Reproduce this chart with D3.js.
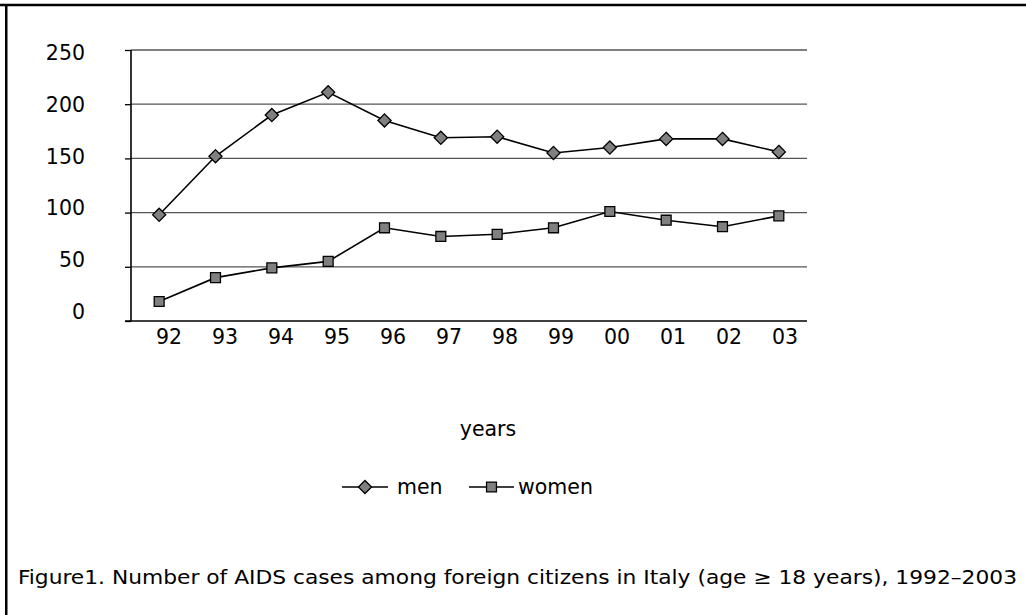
<!DOCTYPE html>
<html>
<head>
<meta charset="utf-8">
<script src="https://cdn.jsdelivr.net/npm/d3@7"></script>
<style>
  html, body { margin: 0; padding: 0; background: #fff; }
  svg { display: block; }
  text { font-family: "DejaVu Sans", Verdana, sans-serif; fill: #000; }
</style>
</head>
<body>
<script>
// AIDS cases among foreign citizens in Italy, by year and sex
const years = ["92", "93", "94", "95", "96", "97", "98", "99", "00", "01", "02", "03"];
const men   = [98, 152, 190, 211, 185, 169, 170, 155, 160, 168, 168, 156];
const women = [18, 40, 49, 55, 86, 78, 80, 86, 101, 93, 87, 97];
const yTicks = [0, 50, 100, 150, 200, 250];
const seriesNames = ["men", "women"];
const caption = "Figure1. Number of AIDS cases among foreign citizens in Italy (age \u2265 18 years), 1992\u20132003";

const W = 1026, H = 615;
const FS = "20.5px";
const svg = d3.select("body").append("svg").attr("width", W).attr("height", H);

// frame (top and left rules)
svg.append("line").attr("x1", 0).attr("x2", W).attr("y1", 5).attr("y2", 5)
  .attr("stroke", "#000").attr("stroke-width", 2.5);
svg.append("line").attr("x1", 6.25).attr("x2", 6.25).attr("y1", 4).attr("y2", H)
  .attr("stroke", "#000").attr("stroke-width", 2.5);

const plot = { left: 131, right: 807, top: 50, bottom: 321 };

const x = d3.scaleBand().domain(years).range([plot.left, plot.right]);
const y = d3.scaleLinear().domain([0, 250]).range([plot.bottom, plot.top]);
const yLabel = d3.scaleLinear().domain([0, 250]).range([312, 53]);
const xLabel = d3.scalePoint().domain(years).range([169, 785]);

// horizontal gridlines
svg.append("g").selectAll("line").data(yTicks.filter(d => d > 0)).join("line")
  .attr("x1", plot.left).attr("x2", plot.right)
  .attr("y1", d => y(d)).attr("y2", d => y(d))
  .attr("stroke", "#555").attr("stroke-width", 1.3);

// y axis with outward ticks
const yAxis = svg.append("g").attr("transform", `translate(${plot.left},0)`)
  .call(d3.axisLeft(y).tickValues(yTicks).tickSize(6).tickFormat(""));
yAxis.select(".domain").attr("stroke", "#000").attr("stroke-width", 1.6)
  .attr("d", `M0,${plot.top}V${plot.bottom}`);
yAxis.selectAll(".tick line").attr("stroke", "#000").attr("stroke-width", 1.3);

// y tick labels
svg.append("g").selectAll("text").data(yTicks).join("text")
  .attr("x", 85).attr("y", d => yLabel(d))
  .attr("text-anchor", "end").attr("dominant-baseline", "central")
  .style("font-size", FS).text(d => d);

// x axis line
svg.append("line").attr("x1", plot.left - 6).attr("x2", plot.right)
  .attr("y1", y(0)).attr("y2", y(0))
  .attr("stroke", "#000").attr("stroke-width", 1.6);

// x tick labels
svg.append("g").selectAll("text").data(years).join("text")
  .attr("x", d => xLabel(d)).attr("y", 344)
  .attr("text-anchor", "middle").style("font-size", FS).text(d => d);

// axis title
svg.append("text").attr("x", 488).attr("y", 436).attr("text-anchor", "middle")
  .style("font-size", FS).text("years");

const line = d3.line().x((d, i) => x(years[i]) + x.bandwidth() / 2).y(d => y(d));
const diamond = d3.symbol().type(d3.symbolDiamond2).size(110);
const square = d3.symbol().type(d3.symbolSquare2).size(125);

function drawSeries(values, sym) {
  const g = svg.append("g");
  g.append("path").datum(values).attr("d", line)
    .attr("fill", "none").attr("stroke", "#000").attr("stroke-width", 1.6);
  g.selectAll("path.m").data(values).join("path").attr("class", "m")
    .attr("transform", (d, i) => `translate(${x(years[i]) + x.bandwidth() / 2},${y(d)})`)
    .attr("d", sym).attr("fill", "#808080").attr("stroke", "#000").attr("stroke-width", 1.3);
}
drawSeries(men, diamond);
drawSeries(women, square);

// legend
const legend = [
  { name: seriesNames[0], sym: diamond, x0: 342, x1: 388, tx: 397 },
  { name: seriesNames[1], sym: square, x0: 469, x1: 514, tx: 518 }
];
const ly = 487;
legend.forEach(l => {
  svg.append("line").attr("x1", l.x0).attr("x2", l.x1).attr("y1", ly).attr("y2", ly)
    .attr("stroke", "#000").attr("stroke-width", 1.5);
  svg.append("path").attr("transform", `translate(${(l.x0 + l.x1) / 2},${ly})`)
    .attr("d", l.sym).attr("fill", "#808080").attr("stroke", "#000").attr("stroke-width", 1.3);
  svg.append("text").attr("x", l.tx).attr("y", ly).attr("dominant-baseline", "central")
    .style("font-size", FS).text(l.name);
});

// caption
svg.append("text").attr("x", 18).attr("y", 584)
  .attr("textLength", 999).attr("lengthAdjust", "spacingAndGlyphs")
  .style("font-family", "'DejaVu Sans Condensed', 'DejaVu Sans', sans-serif")
  .style("font-size", "19px").text(caption);
</script>
</body>
</html>
